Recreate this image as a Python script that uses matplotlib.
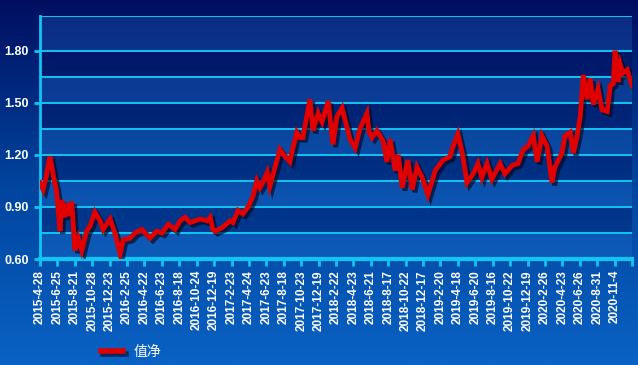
import numpy as np
import matplotlib
matplotlib.use('Agg')
import matplotlib.pyplot as plt
from matplotlib import patheffects as pe
from matplotlib.lines import Line2D

plt.rcParams['font.family'] = ['Liberation Sans', 'Noto Sans CJK SC', 'DejaVu Sans']

# trading-day index of each read point, and the net value there
day_idx = [0, 7, 14, 18, 23, 30, 38, 46, 50, 57, 61, 65, 73, 80, 88, 96, 107, 115,
           126, 138, 145, 161, 172, 184, 191, 207, 218, 234, 253, 268, 280, 295,
           310, 322, 333, 345, 356, 368, 384, 391, 397, 402, 418, 437, 443, 455,
           466, 478, 489, 498, 505, 510, 522, 528, 540, 551, 563, 574, 579, 590,
           597, 604, 609, 620, 627, 639, 648, 662, 673, 682, 694, 705, 712, 724,
           735, 751, 756, 763, 774, 788, 797, 804, 816, 823, 832, 845, 855, 866, 878,
           891, 908, 926, 942, 949, 960, 970, 981, 995, 1006, 1015, 1027, 1038,
           1057, 1068, 1085, 1098, 1110, 1121, 1133, 1142, 1153, 1165, 1176, 1183,
           1199, 1206, 1218, 1225, 1234, 1241, 1248, 1257, 1264, 1271, 1282, 1291,
           1303, 1310, 1317, 1321, 1328, 1333, 1339, 1349, 1360]
nav = [1.04, 1.00, 1.07, 1.13, 1.19, 1.09, 0.99, 0.76, 0.94, 0.84, 0.92, 0.85, 0.93,
       0.65, 0.72, 0.65, 0.76, 0.79, 0.87, 0.82, 0.77, 0.83, 0.75, 0.63, 0.71, 0.72,
       0.75, 0.77, 0.72, 0.76, 0.75, 0.80, 0.77, 0.82, 0.84, 0.81, 0.82, 0.83, 0.82,
       0.84, 0.77, 0.76, 0.78, 0.82, 0.81, 0.88, 0.86, 0.90, 0.96, 1.05, 1.01, 1.03,
       1.10, 1.02, 1.13, 1.23, 1.19, 1.16, 1.22, 1.33, 1.30, 1.30, 1.37, 1.52, 1.34,
       1.44, 1.39, 1.51, 1.26, 1.42, 1.47, 1.36, 1.29, 1.24, 1.35, 1.44, 1.33, 1.30,
       1.34, 1.28, 1.16, 1.29, 1.11, 1.20, 1.01, 1.17, 1.00, 1.13, 1.07, 0.97, 1.11,
       1.17, 1.19, 1.25, 1.32, 1.21, 1.04, 1.09, 1.15, 1.07, 1.15, 1.06, 1.15, 1.09,
       1.14, 1.15, 1.23, 1.25, 1.31, 1.16, 1.31, 1.25, 1.04, 1.13, 1.21, 1.31, 1.33,
       1.21, 1.31, 1.42, 1.66, 1.52, 1.64, 1.49, 1.58, 1.46, 1.45, 1.60, 1.61, 1.80,
       1.62, 1.72, 1.67, 1.69, 1.60]

tick_labels = ['2015-4-28', '2015-6-25', '2015-8-21', '2015-10-28', '2015-12-23',
               '2016-2-25', '2016-4-22', '2016-6-23', '2016-8-18', '2016-10-24',
               '2016-12-19', '2017-2-23', '2017-4-24', '2017-6-23', '2017-8-18',
               '2017-10-23', '2017-12-19', '2018-2-22', '2018-4-23', '2018-6-21',
               '2018-8-17', '2018-10-22', '2018-12-17', '2019-2-20', '2019-4-18',
               '2019-6-20', '2019-8-16', '2019-10-22', '2019-12-19', '2020-2-26',
               '2020-4-23', '2020-6-26', '2020-8-31', '2020-11-4']
tick_step = 40

cyan = '#12c4f2'

fig = plt.figure(figsize=(6.38, 3.65), dpi=100)

# background gradient for the whole figure
bg = fig.add_axes([0, 0, 1, 1])
grad = np.linspace(0, 1, 256).reshape(-1, 1)
cmap = matplotlib.colors.LinearSegmentedColormap.from_list('bg', ['#0a62c4', '#00449e', '#000e60'])
bg.imshow(grad, aspect='auto', cmap=cmap, origin='lower', extent=[0, 1, 0, 1])
bg.set_axis_off()

ax = fig.add_axes([40 / 638, 106 / 365, 592 / 638, 243 / 365])
ax.set_facecolor('none')
ax.set_xlim(0, 1360)
ax.set_ylim(0.60, 2.00)

# alternating bands inside the plot
edges = [0.60, 0.75, 0.90, 1.05, 1.20, 1.35, 1.50, 1.65, 1.80, 2.00]
for i in range(len(edges) - 1):
    if i % 2 == 0:
        ax.axhspan(edges[i], edges[i + 1], color='#2a7ad8', alpha=0.25, lw=0, zorder=0)
    else:
        ax.axhspan(edges[i], edges[i + 1], color='#000a50', alpha=0.3, lw=0, zorder=0)

for e in edges[1:]:
    ax.axhline(e, color=cyan, lw=1.4, zorder=1)

ax.plot(day_idx, nav, color='#e00000', lw=3.5, solid_joinstyle='miter', zorder=3,
        path_effects=[pe.SimpleLineShadow(offset=(2, -2), shadow_color='#000820', alpha=0.65),
                      pe.Normal()])

ax.set_yticks([0.60, 0.90, 1.20, 1.50, 1.80])
ax.set_yticklabels(['0.60', '0.90', '1.20', '1.50', '1.80'])
ax.set_xticks(np.arange(len(tick_labels) + 1) * tick_step)
ax.set_xticklabels(tick_labels + [''], rotation=90)

for s in ['top', 'right']:
    ax.spines[s].set_visible(False)
ax.spines['left'].set_color(cyan)
ax.spines['left'].set_linewidth(2)
ax.spines['bottom'].set_color(cyan)
ax.spines['bottom'].set_linewidth(3)

ax.tick_params(axis='y', colors=cyan, length=4, width=2, pad=4, labelcolor='white', labelsize=9)
ax.tick_params(axis='x', colors=cyan, length=5, width=2, pad=3, labelcolor='white', labelsize=8.5)
for lb in ax.get_xticklabels() + ax.get_yticklabels():
    lb.set_fontweight('bold')

handle = Line2D([], [], color='#e00000', lw=4,
                path_effects=[pe.SimpleLineShadow(offset=(2, -2), shadow_color='#000820', alpha=0.6),
                              pe.Normal()])
leg = fig.legend([handle], ['值净'], loc='center left', bbox_to_anchor=(88 / 638, 1 - 352 / 365),
                 frameon=False, handlelength=1.6, handletextpad=0.8,
                 prop={'family': ['Noto Sans CJK SC'], 'size': 10})
for t in leg.get_texts():
    t.set_color('white')

fig.savefig('out.png', dpi=100)
